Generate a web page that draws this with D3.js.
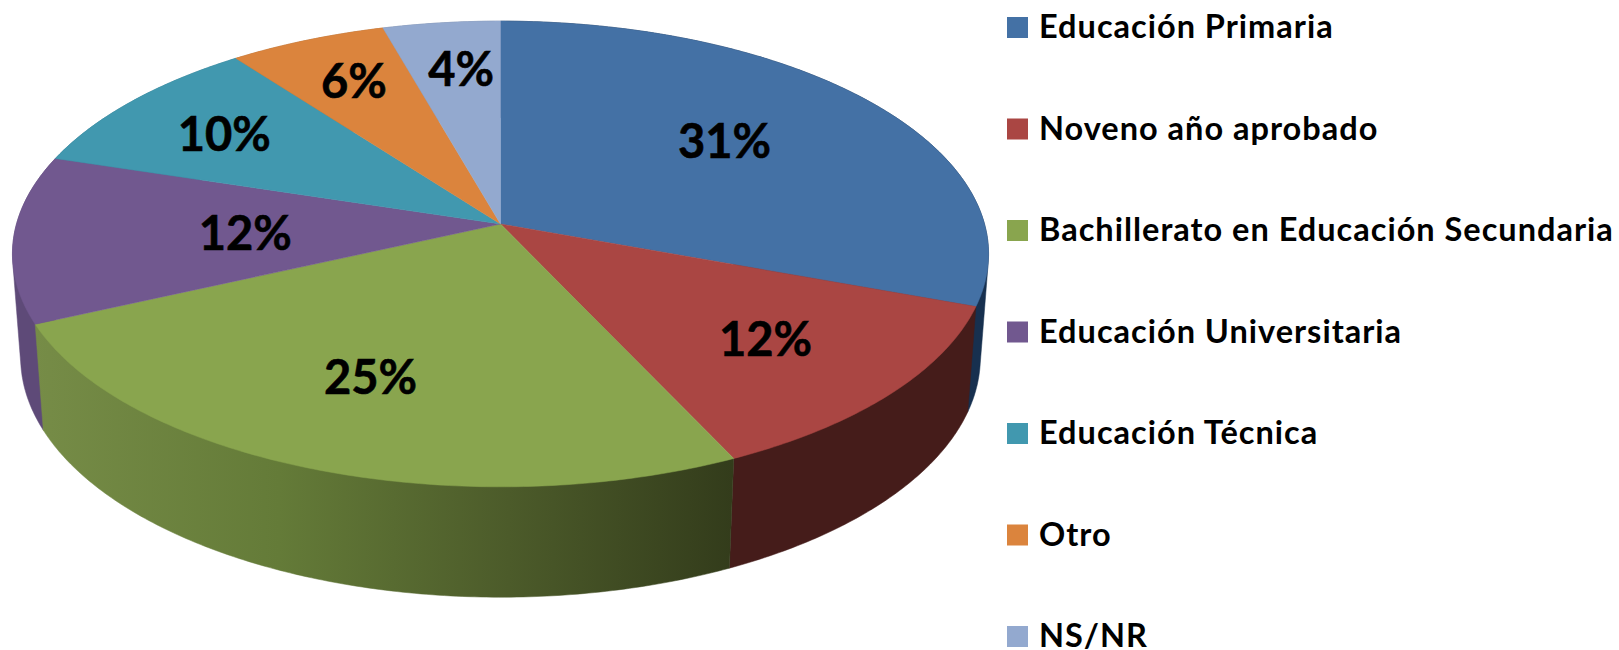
<!DOCTYPE html>
<html><head><meta charset="utf-8">
<script src="https://cdn.jsdelivr.net/npm/d3@7/dist/d3.min.js"></script>
<style>html,body{margin:0;padding:0;background:#fff;overflow:hidden}svg{display:block}text{font-family:Lato,"Open Sans",sans-serif;font-weight:700;fill:#000}</style>
</head><body><svg id="c" width="1619" height="650"></svg>
<script>
const categories = ["Educación Primaria","Noveno año aprobado","Bachillerato en Educación Secundaria","Educación Universitaria","Educación Técnica","Otro","NS/NR"];
const shares = [30.6,12.4,25.2,11.6,9.9,5.9,4.4];
const topColors = ["#4471A5","#AA4643","#89A54E","#71588F","#4198AF","#DB843D","#93A9CF"];
const wallColors = ["#17304F","#451C1A","url(#greenWall)","#5E4A78","#2F7286","#A5622C","#6E7F9C"];
const labelRadii = [0.6,0.7,0.66,0.56,0.75,0.8,0.73];
const labelNudges = [[-4,-7],[-1,0],[-10,-1],[16,1],[5,4],[11,7],[5,-3]];
const legendRows = d3.range(categories.length);

const svg = d3.select("#c");
const cx=500.5, cy=224, R=484, K=229, P=-0.1287;
const Rb=476, Kb=236, cb=327, Pb=-0.1266;
const total = d3.sum(shares);
const percent = d3.format(".0%");
const arcs = d3.pie().sort(null).startAngle(0).endAngle(2*Math.PI)(shares);

function project(a,r){
  const x=r*Math.sin(a), y=-r*Math.cos(a), d=1+P*y;
  return [cx+R*x/d, cy+K*y/d];
}
function projectLower(a){
  const x=Math.sin(a), y=-Math.cos(a), d=1+Pb*y;
  return [cx+Rb*x/d, cb+Kb*y/d];
}
function angles(d){
  const n=Math.max(2,Math.ceil((d.endAngle-d.startAngle)*90));
  return d3.range(n+1).map(i=>d.startAngle+(d.endAngle-d.startAngle)*i/n);
}
const rim = d => angles(d).map(a=>project(a,1));
const line = d3.line();

const defs=svg.append("defs");
const grad=defs.append("linearGradient").attr("id","greenWall").attr("gradientUnits","userSpaceOnUse")
  .attr("x1",35).attr("x2",732).attr("y1",0).attr("y2",0);
[[0,"#768C47"],[0.35,"#647B38"],[0.68,"#4C5B2A"],[1,"#333C1B"]].forEach(([o,c])=>grad.append("stop").attr("offset",o).attr("stop-color",c));

// walls painted back to front; each is the hull of its upper and lower rim
const wallOrder = arcs.slice().sort((a,b)=>d3.ascending(-Math.cos((a.startAngle+a.endAngle)/2),-Math.cos((b.startAngle+b.endAngle)/2)));
svg.append("g").selectAll("path").data(wallOrder).join("path")
  .attr("d",d=>line(d3.polygonHull(rim(d).concat(angles(d).map(projectLower))))+"Z")
  .attr("fill",d=>wallColors[d.index]).attr("stroke",d=>wallColors[d.index]).attr("stroke-width",0.5);

svg.append("g").selectAll("path").data(arcs).join("path")
  .attr("d",d=>line([[cx,cy]].concat(rim(d)))+"Z")
  .attr("fill",d=>topColors[d.index]).attr("stroke",d=>topColors[d.index]).attr("stroke-width",0.5);

svg.append("g").selectAll("text").data(arcs).join("text")
  .attr("transform",d=>{const i=d.index,p=project((d.startAngle+d.endAngle)/2,labelRadii[i]);return `translate(${p[0]+labelNudges[i][0]*1.03},${p[1]+labelNudges[i][1]*1.03})`;})
  .attr("text-anchor","middle").attr("dy","0.36em").attr("font-size",47).attr("stroke","#000").attr("stroke-width",0.6)
  .text(d=>percent(d.value/total));

const rowY=d3.scalePoint().domain(legendRows).range([27.5,636.5]);
const leg=svg.append("g").selectAll("g").data(legendRows).join("g").attr("transform",i=>`translate(1007,${rowY(i)})`);
leg.append("rect").attr("y",-10.5).attr("width",21).attr("height",21).attr("fill",i=>topColors[i]);
leg.append("text").attr("x",32).attr("y",10.5).attr("font-size",32.5).attr("letter-spacing",1).text(i=>categories[i]);
</script></body></html>
